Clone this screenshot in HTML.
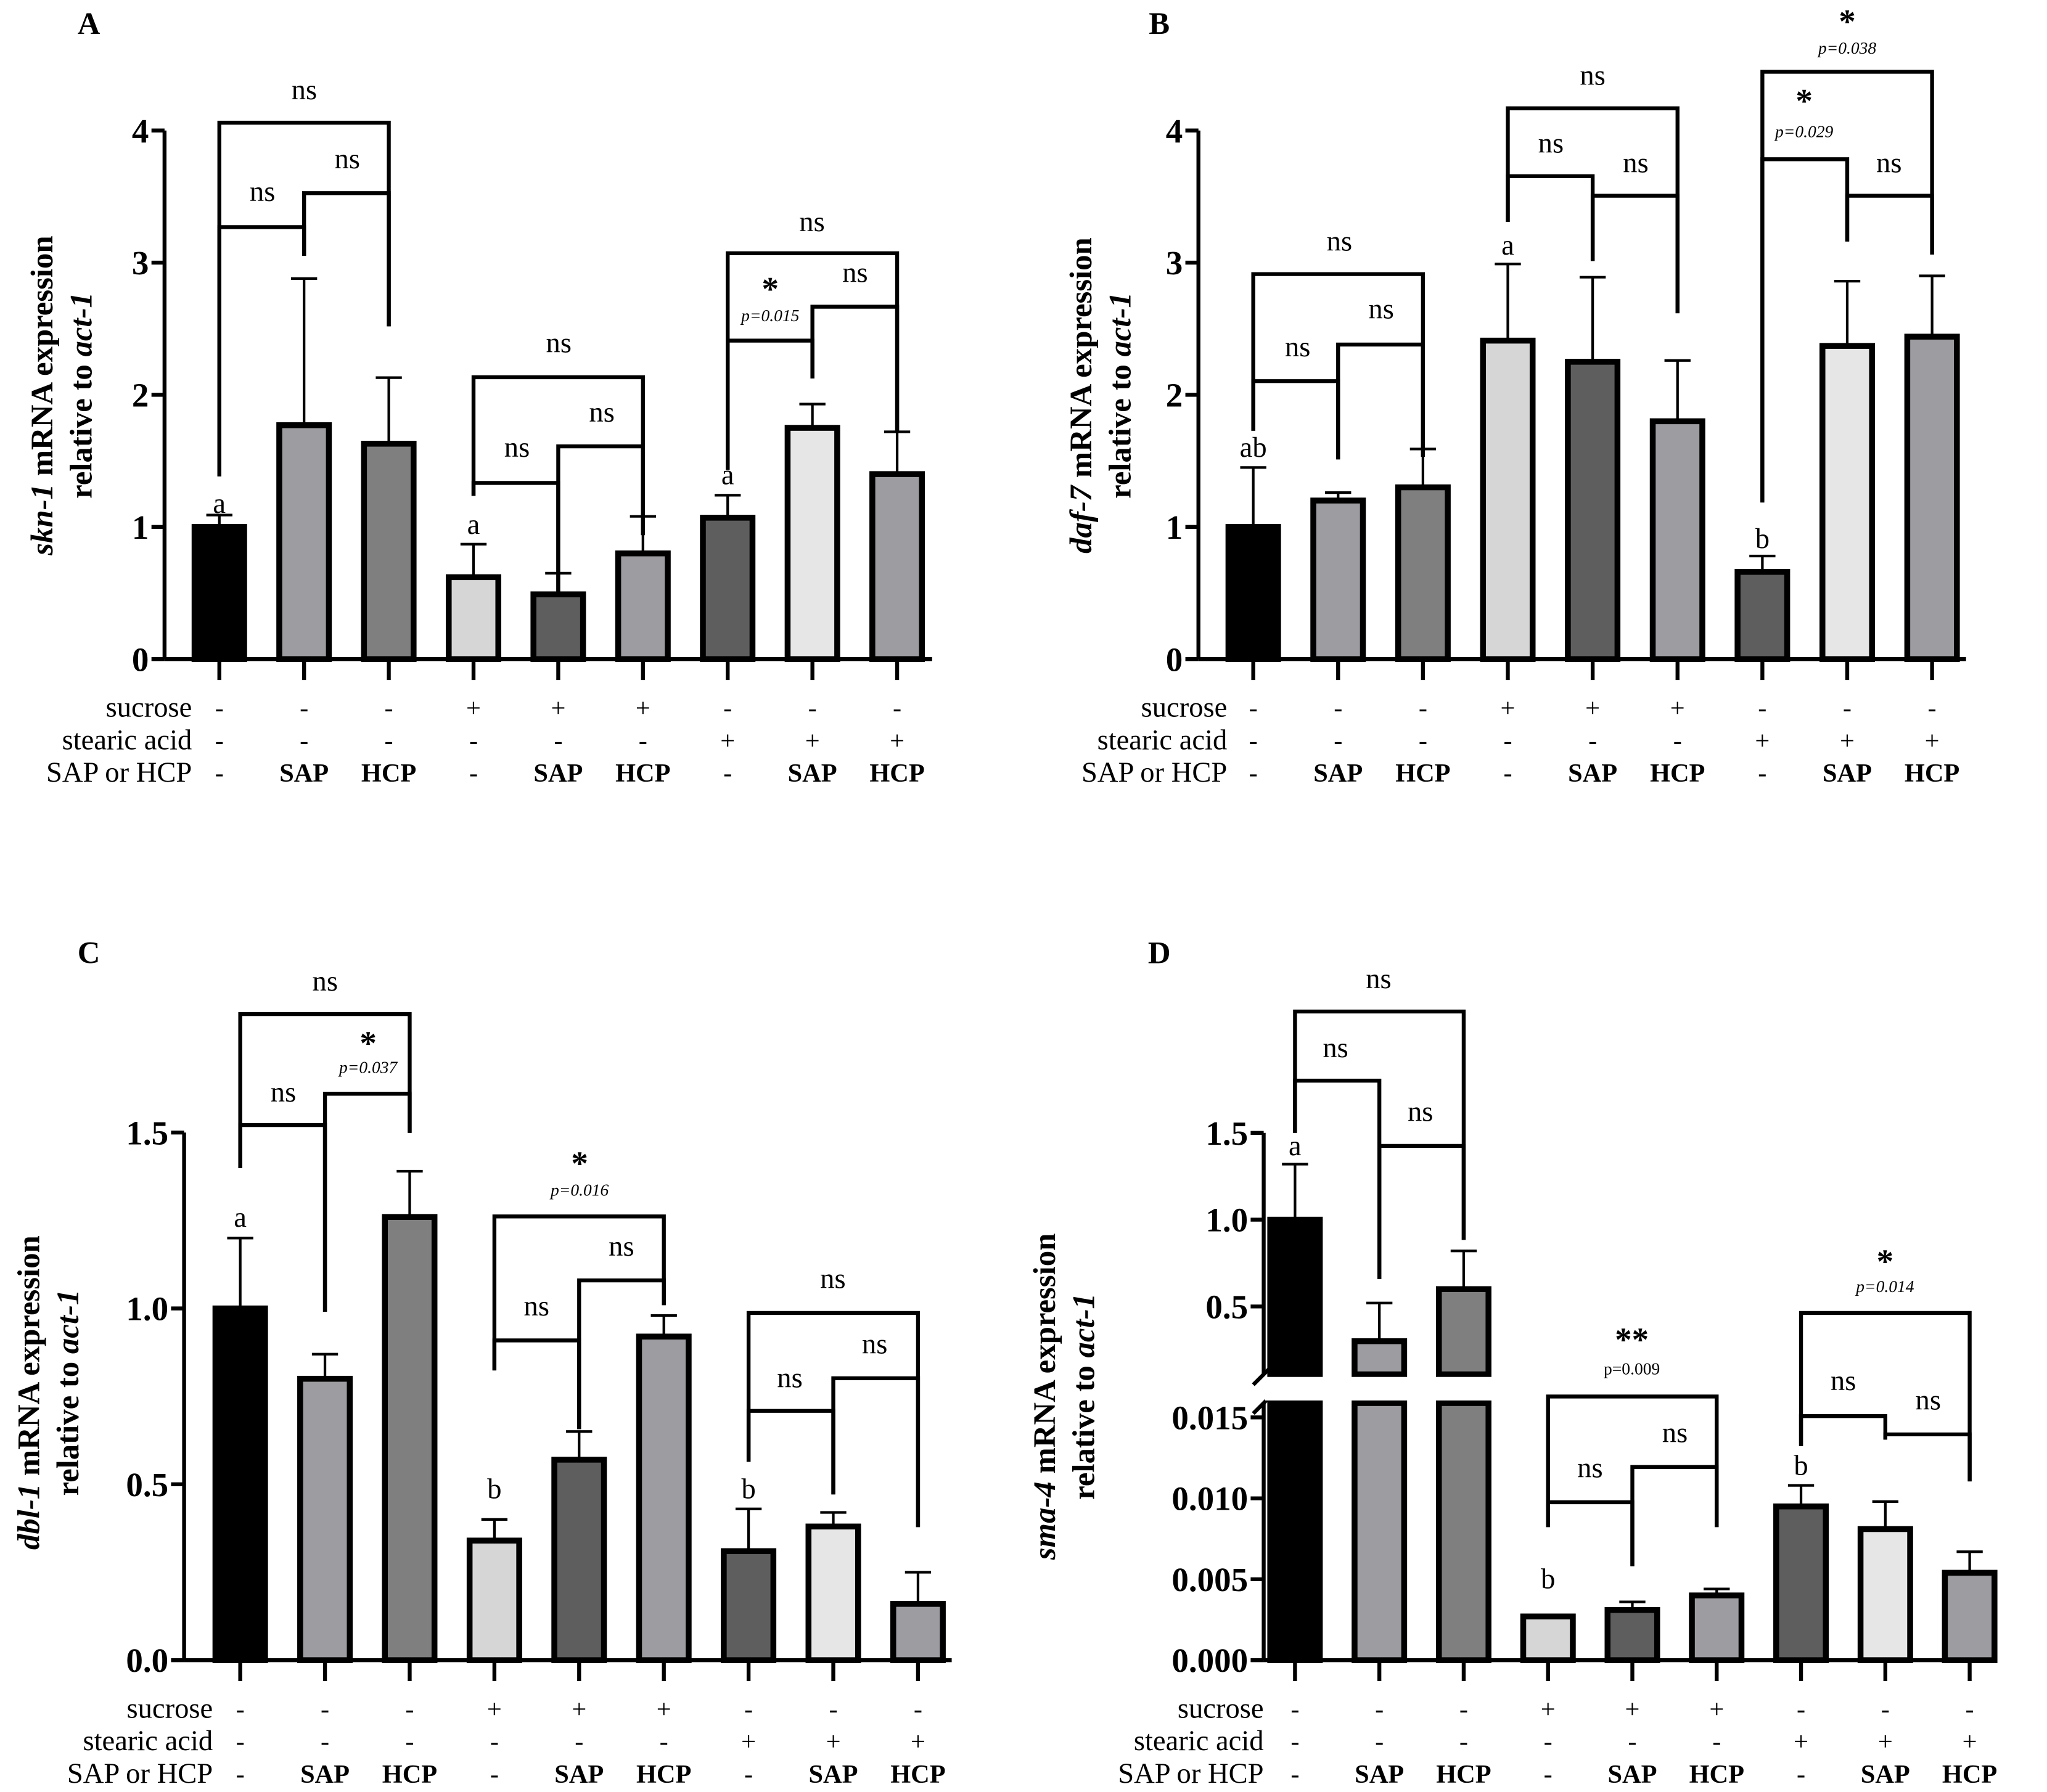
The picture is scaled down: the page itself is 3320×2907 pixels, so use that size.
<!DOCTYPE html>
<html><head><meta charset="utf-8">
<style>
html,body{margin:0;padding:0;background:#fff;}
svg{display:block;}
text{font-family:"Liberation Serif",serif;fill:#000;}
</style></head>
<body>
<svg id="fig" width="3320" height="2907" viewBox="0 0 1568 1373" xmlns="http://www.w3.org/2000/svg"></svg>
<script>
// ---- data ----
const categories=['control','SAP','HCP','sucrose','sucrose-SAP','sucrose-HCP','stearic','stearic-SAP','stearic-HCP'];
const sucroseRow=['-','-','-','+','+','+','-','-','-'];
const stearicRow=['-','-','-','-','-','-','+','+','+'];
const treatRow=['-','SAP','HCP','-','SAP','HCP','-','SAP','HCP'];
const aMeans=[1.0,1.77,1.63,0.62,0.49,0.80,1.07,1.75,1.40];
const aErr=[1.09,2.88,2.13,0.87,0.65,1.08,1.24,1.93,1.72];
const bMeans=[1.0,1.20,1.30,2.41,2.25,1.80,0.66,2.37,2.44];
const bErr=[1.45,1.26,1.59,2.99,2.89,2.26,0.78,2.86,2.90];
const cMeans=[1.0,0.80,1.26,0.34,0.57,0.92,0.31,0.38,0.16];
const cErr=[1.20,0.87,1.39,0.40,0.65,0.98,0.43,0.42,0.25];
const dMeans=[1.0,0.30,0.60,0.0027,0.0031,0.0040,0.0095,0.0081,0.0054];
const dErr=[1.32,0.52,0.82,0.0028,0.0036,0.0044,0.0108,0.0098,0.0067];
const abTicks=[0,1,2,3,4];
const cTicks=[0,0.5,1.0,1.5];
const dLowTicks=[0,0.005,0.010,0.015];
const dHighTicks=[0.5,1.0,1.5];
const fills=['#000','#9d9da1','#7f7f7f','#d6d6d6','#5e5e5e','#9d9da1','#5e5e5e','#e6e6e6','#9d9da1'];

const NS='http://www.w3.org/2000/svg';
const svg=document.getElementById('fig');
function el(tag,attrs,parent){const e=document.createElementNS(NS,tag);for(const k in attrs)e.setAttribute(k,attrs[k]);(parent||svg).appendChild(e);return e;}
function txt(x,y,s,size,opts,parent){opts=opts||{};const t=el('text',{x:x,y:y,'font-size':size,'text-anchor':opts.anchor||'middle','font-weight':opts.bold?'bold':'normal','font-style':opts.italic?'italic':'normal'},parent);t.textContent=s;return t;}
function line(x1,y1,x2,y2,w,parent){return el('line',{x1:x1,y1:y1,x2:x2,y2:y2,stroke:'#000','stroke-width':w||3},parent);}

function panel(cfg){
  const g=el('g',{});
  
  
  const L=txt(cfg.letterX,cfg.letterY,cfg.id,24,{bold:true},g);
  
  
  const cx=i=>cfg.x1+cfg.step*i;
  const y=cfg.y;
  const xa=line(cfg.ax,cfg.y0,cfg.ax+cfg.axLen,cfg.y0,3,g);
  
  
  if(cfg.broken){
    const ya=line(cfg.ax,cfg.y0,cfg.ax,cfg.lowTop,3,g);
    
    
    const yb=line(cfg.ax,cfg.highBot,cfg.ax,cfg.yHigh(1.5),3,g);
    
    
    line(cfg.ax-8,cfg.highBot+8,cfg.ax+8,cfg.highBot-8,3,g);
    line(cfg.ax-8,cfg.lowTop+8,cfg.ax+8,cfg.lowTop-8,3,g);
    cfg.lowTicks.forEach(v=>{line(cfg.ax-10,y(v),cfg.ax,y(v),3,g);const t=txt(cfg.ax-12,y(v)+9,v.toFixed(3),26,{bold:true,anchor:'end'},g);});
    cfg.highTicks.forEach(v=>{line(cfg.ax-10,cfg.yHigh(v),cfg.ax,cfg.yHigh(v),3,g);const t=txt(cfg.ax-12,cfg.yHigh(v)+9,v.toFixed(1),26,{bold:true,anchor:'end'},g);});
  } else {
    const ya=line(cfg.ax,cfg.y0,cfg.ax,y(cfg.ticks[cfg.ticks.length-1]),3,g);
    
    
    cfg.ticks.forEach(v=>{line(cfg.ax-10,y(v),cfg.ax,y(v),3,g);const t=txt(cfg.ax-12,y(v)+9,cfg.fmt(v),26,{bold:true,anchor:'end'},g);});
  }
  const tg=el('g',{transform:'translate('+cfg.titleX+','+cfg.titleY+') rotate(-90)'},g);
  
  
  const t1=el('text',{x:0,y:0,'font-size':24,'font-weight':'bold','text-anchor':'middle'},tg);
  const s1=el('tspan',{'font-style':'italic'},t1);s1.textContent=cfg.gene;
  const s2=el('tspan',{},t1);s2.textContent=' mRNA expression';
  const t2=el('text',{x:0,y:30,'font-size':24,'font-weight':'bold','text-anchor':'middle'},tg);
  const s3=el('tspan',{},t2);s3.textContent='relative to ';
  const s4=el('tspan',{'font-style':'italic'},t2);s4.textContent='act-1';
  cfg.means.forEach((m,i)=>{
    const x=cx(i),w=38;
    if(cfg.broken && m>=0.05){
      const r1=el('rect',{x:x-w/2,y:cfg.lowTop,width:w,height:cfg.y0-cfg.lowTop,fill:fills[i],stroke:'#000','stroke-width':4.5},g);
      
      
      const top=cfg.yHigh(m);
      const r2=el('rect',{x:x-w/2,y:top,width:w,height:cfg.highBot-top,fill:fills[i],stroke:'#000','stroke-width':4.5},g);
      
      
      el('rect',{x:x-w/2-4,y:cfg.highBot+2,width:w+8,height:cfg.lowTop-cfg.highBot-4,fill:'#fff'},g);
      const et=cfg.yHigh(cfg.err[i]);
      line(x,top,x,et,2,g);line(x-10,et,x+10,et,2,g);
    } else {
      const top=y(m);
      const r=el('rect',{x:x-w/2,y:top,width:w,height:cfg.y0-top,fill:fills[i],stroke:'#000','stroke-width':4.5},g);
      
      
      const et=y(cfg.err[i]);
      const eb=line(x,top,x,et,2,g);
      
      
      line(x-10,et,x+10,et,2,g);
    }
    line(x,cfg.y0,x,cfg.y0+16,3,g);
    const rows=[sucroseRow[i],stearicRow[i],treatRow[i]];
    rows.forEach((s,r)=>{const t=txt(x,cfg.rowY+25*r,s,20,{bold:s.length>1},g);});
  });
  ['sucrose','stearic acid','SAP or HCP'].forEach((s,r)=>{const t=txt(cfg.rowLabelX,cfg.rowY+25*r,s,22,{anchor:'end'},g);});
  cfg.letters.forEach(l=>{const t=txt(cx(l[0]),l[1],l[2],22,{},g);});
  cfg.brackets.forEach(b=>{
    const bg=el('g',{},g);
    
    
    const x1=cx(b[0]),x2=cx(b[1]);
    el('polyline',{points:x1+','+b[3]+' '+x1+','+b[2]+' '+x2+','+b[2]+' '+x2+','+b[4],fill:'none',stroke:'#000','stroke-width':3},bg);
  });
  cfg.labels.forEach(l=>{
    const t=txt(l[0],l[1],l[2],l[3],{bold:l[4]},g);
    if(l[5])t.setAttribute('font-style','italic');
    
    
  });
}

panel({id:'A',letterX:68,letterY:26,ax:126,axLen:588,y0:505,y:v=>505-v*101.25,ticks:abTicks,fmt:v=>String(v),
 x1:168,step:64.9,means:aMeans,err:aErr,gene:'skn-1',titleX:40,titleY:303,rowY:549,rowLabelX:147,
 letters:[[0,393,'a'],[3,409,'a'],[6,371,'a']],
 brackets:[[0,2,94,365,250],[0,1,174,365,196],[1,2,148,196,250],[3,5,289,380,410],[3,4,370,380,455],[4,5,342,455,410],[6,8,194,360,330],[6,7,261,360,290],[7,8,235,290,330]],
 labels:[[233,76,'ns',22],[201,154,'ns',22],[266,129,'ns',22],[428,270,'ns',22],[396,350,'ns',22],[461,323,'ns',22],[622,177,'ns',22],[590,230,'*',26,true],[590,246,'p=0.015',13,false,true],[655,216,'ns',22]]});
panel({id:'B',letterX:888,letterY:26,ax:918,axLen:588,y0:505,y:v=>505-v*101.25,ticks:abTicks,fmt:v=>String(v),
 x1:960,step:65,means:bMeans,err:bErr,gene:'daf-7',titleX:836,titleY:303,rowY:549,rowLabelX:940,
 letters:[[0,350,'ab'],[3,195,'a'],[6,420,'b']],
 brackets:[[0,2,210,330,350],[0,1,292,330,352],[1,2,264,352,350],[3,5,83,170,240],[3,4,135,170,200],[4,5,150,200,240],[6,8,55,385,195],[6,7,122,385,185],[7,8,150,185,195]],
 labels:[[1026,192,'ns',22],[994,273,'ns',22],[1058,244,'ns',22],[1220,65,'ns',22],[1188,117,'ns',22],[1253,132,'ns',22],[1415,25,'*',26,true],[1415,41,'p=0.038',13,false,true],[1382,86,'*',26,true],[1382,105,'p=0.029',13,false,true],[1447,132,'ns',22]]});
panel({id:'C',letterX:68,letterY:738,ax:141,axLen:588,y0:1272,y:v=>1272-v*269.5,ticks:cTicks,fmt:v=>v.toFixed(1),
 x1:184,step:64.9,means:cMeans,err:cErr,gene:'dbl-1',titleX:30,titleY:1067,rowY:1316,rowLabelX:163,
 letters:[[0,940,'a'],[3,1148,'b'],[6,1148,'b']],
 brackets:[[0,2,777,895,868],[0,1,862,895,1005],[1,2,838,1005,868],[3,5,932,1050,1000],[3,4,1027,1050,1095],[4,5,981,1095,1000],[6,8,1006,1120,1170],[6,7,1081,1120,1145],[7,8,1056,1145,1170]],
 labels:[[249,759,'ns',22],[217,844,'ns',22],[282,808,'*',26,true],[282,822,'p=0.037',13,false,true],[444,900,'*',26,true],[444,916,'p=0.016',13,false,true],[411,1008,'ns',22],[476,962,'ns',22],[638,987,'ns',22],[605,1063,'ns',22],[670,1037,'ns',22]]});
panel({id:'D',letterX:888,letterY:738,ax:968,axLen:560,y0:1272,broken:true,lowTop:1075,highBot:1053,
 y:v=>1272-v*12400,yHigh:v=>1001-(v-0.5)*133,lowTicks:dLowTicks,highTicks:dHighTicks,
 x1:992,step:64.6,means:dMeans,err:dErr,gene:'sma-4',titleX:808,titleY:1070,rowY:1316,rowLabelX:968,
 letters:[[0,885,'a'],[3,1217,'b'],[6,1130,'b']],
 brackets:[[0,2,775,868,950],[0,1,828,868,980],[1,2,878,980,950],[3,5,1070,1170,1170],[3,4,1151,1170,1200],[4,5,1124,1200,1170],[6,8,1006,1108,1135],[6,7,1085,1108,1103],[7,8,1099,1103,1135]],
 labels:[[1056,757,'ns',22],[1023,810,'ns',22],[1088,859,'ns',22],[1250,1035,'**',26,true],[1250,1053,'p=0.009',13],[1218,1132,'ns',22],[1283,1105,'ns',22],[1444,975,'*',26,true],[1444,990,'p=0.014',13,false,true],[1412,1065,'ns',22],[1477,1080,'ns',22]]});
</script>
</body></html>
